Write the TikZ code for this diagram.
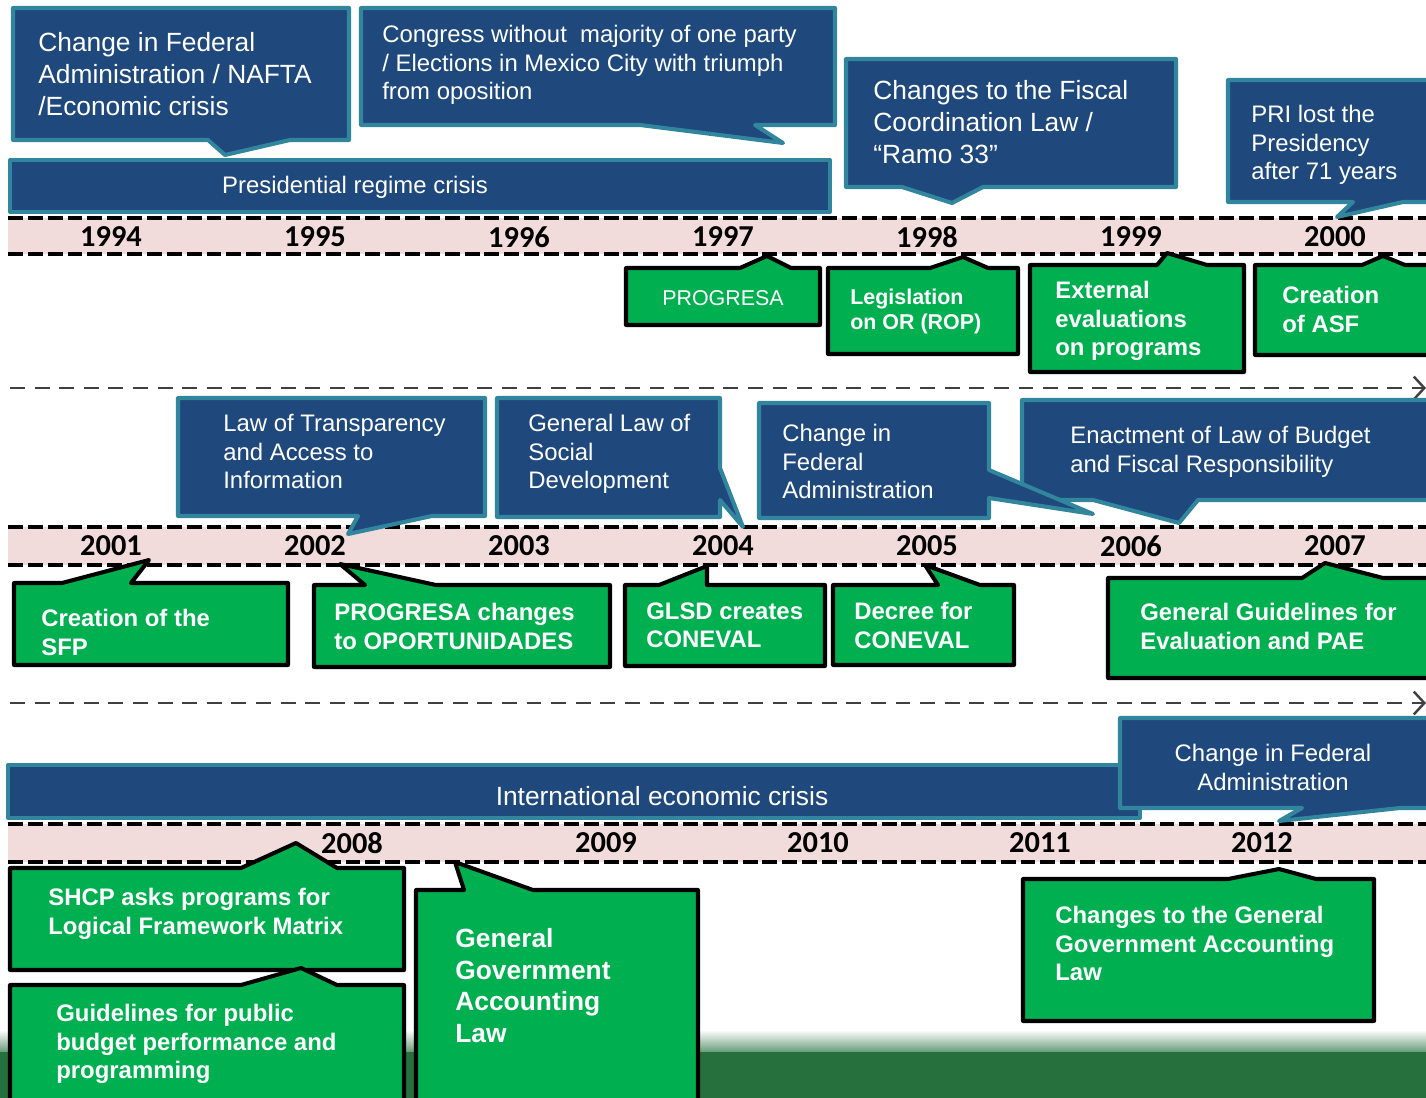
\documentclass[tikz,border=0pt]{standalone}
\usepackage{fontspec}
\setmainfont{Liberation Sans}
\newfontfamily\yearfont{Carlito}
\usetikzlibrary{arrows.meta}
\definecolor{tlblue}{RGB}{31,73,125}
\definecolor{tlteal}{RGB}{49,133,156}
\definecolor{tlgreen}{RGB}{0,176,80}
\definecolor{tlpink}{RGB}{242,220,219}
\definecolor{tlgrey}{RGB}{64,64,64}
\definecolor{tlgrass}{RGB}{38,112,62}

\begin{document}
\begin{tikzpicture}[x=0.02cm,y=-0.02cm,
    bluecall/.style={fill=tlblue,draw=tlteal,line width=2.3pt,line join=round},
    greencall/.style={fill=tlgreen,draw=black,line width=2.3pt,line join=round},
    bandline/.style={line width=2.3pt,dash pattern=on 8.5pt off 2.8pt},
    sepline/.style={draw=tlgrey,line width=1.4pt,dash pattern=on 8.5pt off 5.5pt,
      -{Straight Barb[length=6pt,width=13pt]}},
    yeartxt/.style={font=\yearfont\bfseries\fontsize{17.3}{20}\selectfont},
    notetxt/.style={text=white,inner sep=0pt,anchor=north west,align=left},
    bigtxt/.style={notetxt,font=\fontsize{15}{18.1}\selectfont},
    midtxt/.style={notetxt,font=\fontsize{13.6}{16.2}\selectfont},
    boldtxt/.style={notetxt,font=\bfseries\fontsize{13.6}{16.2}\selectfont},
    smalltxt/.style={notetxt,font=\bfseries\fontsize{12.2}{14.2}\selectfont}]

  \useasboundingbox (0,0) rectangle (1426,1098);
  \clip (0,0) rectangle (1426,1098);

  \shade[top color=white,bottom color=tlgrass!70] (0,1030) rectangle (1426,1052);
  \fill[tlgrass] (0,1052) rectangle (1426,1098);

  \fill[tlpink] (8,218) rectangle (1426,254);
  \draw[bandline] (8,218) -- (1426,218);
  \draw[bandline] (8,254) -- (1426,254);
  \fill[tlpink] (8,527) rectangle (1426,565);
  \draw[bandline] (8,527) -- (1426,527);
  \draw[bandline] (8,565) -- (1426,565);
  \fill[tlpink] (8,824) rectangle (1426,862);
  \draw[bandline] (8,824) -- (1426,824);
  \draw[bandline] (8,862) -- (1426,862);

  \coordinate (sepA) at (10,388);
  \coordinate (sepAend) at (1426,388);
  \coordinate (sepB) at (10,703);
  \coordinate (sepBend) at (1426,703);
  \draw[sepline] (sepA) -- (sepAend);
  \draw[sepline] (sepB) -- (sepBend);

  \node[yeartxt] (y1994) at (111,237) {1994};
  \node[yeartxt] (y1995) at (315,237) {1995};
  \node[yeartxt] (y1996) at (519,237) {1996};
  \node[yeartxt] (y1997) at (723,237) {1997};
  \node[yeartxt] (y1998) at (927,237) {1998};
  \node[yeartxt] (y1999) at (1131,237) {1999};
  \node[yeartxt] (y2000) at (1335,237) {2000};
  \node[yeartxt] (y2001) at (111,546) {2001};
  \node[yeartxt] (y2002) at (315,546) {2002};
  \node[yeartxt] (y2003) at (519,546) {2003};
  \node[yeartxt] (y2004) at (723,546) {2004};
  \node[yeartxt] (y2005) at (927,546) {2005};
  \node[yeartxt] (y2006) at (1131,546) {2006};
  \node[yeartxt] (y2007) at (1335,546) {2007};
  \node[yeartxt] (y2008) at (352,843) {2008};
  \node[yeartxt] (y2009) at (606,843) {2009};
  \node[yeartxt] (y2010) at (818,843) {2010};
  \node[yeartxt] (y2011) at (1040,843) {2011};
  \node[yeartxt] (y2012) at (1262,843) {2012};

  \draw[bluecall] (13,8) -- (349,8) -- (349,140) -- (290,140) -- (225,155)
    -- (208,140) -- (13,140) -- cycle;
  \node[bigtxt] (nafta) at (38,32)
    {Change in Federal\\Administration / NAFTA\\/Economic crisis};

  \draw[bluecall] (361,8) -- (835,8) -- (835,125) -- (755,125) -- (783,143)
    -- (640,125) -- (361,125) -- cycle;
  \node[midtxt] (congress) at (382,25)
    {Congress without\ \ majority of one party\\/ Elections in Mexico City with triumph\\from oposition};

  \draw[bluecall] (10,160) rectangle (830,212);
  \node[midtxt,anchor=center] (regime) at (355,187) {Presidential regime crisis};

  \draw[bluecall] (846,59) -- (1176,59) -- (1176,187) -- (983,187) -- (952,203)
    -- (902,187) -- (846,187) -- cycle;
  \node[bigtxt] (ramo) at (873,80)
    {Changes to the Fiscal\\Coordination Law /\\“Ramo 33”};

  \draw[bluecall] (1228,80) -- (1440,80) -- (1440,202) -- (1403,202) -- (1337,217)
    -- (1353,202) -- (1228,202) -- cycle;
  \node[midtxt] (pri) at (1251,105) {PRI lost the\\Presidency\\after 71 years};

  \draw[greencall] (626,268) -- (740,268) -- (767,256) -- (791,268) -- (820,268)
    -- (820,325) -- (626,325) -- cycle;
  \node[midtxt,anchor=center,font=\fontsize{12.2}{14.2}\selectfont] (progresa) at (723,298) {PROGRESA};

  \draw[greencall] (828,268) -- (930,268) -- (963,257) -- (988,268) -- (1018,268)
    -- (1018,354) -- (828,354) -- cycle;
  \node[smalltxt] (rop) at (850,289) {Legislation\\on OR (ROP)};

  \draw[greencall] (1030,265) -- (1157,265) -- (1167,253) -- (1207,265) -- (1244,265)
    -- (1244,372) -- (1030,372) -- cycle;
  \node[boldtxt] (evals) at (1055,281) {External\\evaluations\\on programs};

  \draw[greencall] (1255,265) -- (1362,265) -- (1383,256) -- (1405,265) -- (1440,265)
    -- (1440,355) -- (1255,355) -- cycle;
  \node[boldtxt] (asf) at (1282,286) {Creation\\of ASF};

  \draw[bluecall] (178,398) -- (485,398) -- (485,516) -- (432,516) -- (348,534)
    -- (358,516) -- (178,516) -- cycle;
  \node[midtxt] (transp) at (223,414) {Law of Transparency\\and Access to\\Information};

  \draw[bluecall] (497,398) -- (720,398) -- (720,468) -- (743,527) -- (720,500)
    -- (720,517) -- (497,517) -- cycle;
  \node[midtxt] (social) at (528,414) {General Law of\\Social\\Development};

  \draw[bluecall] (1022,400) -- (1440,400) -- (1440,500) -- (1198,500) -- (1179,523)
    -- (1093,500) -- (1022,500) -- cycle;
  \node[midtxt] (budget) at (1070,426)
    {Enactment of Law of Budget\\and Fiscal Responsibility};

  \draw[bluecall] (759,403) -- (989,403) -- (989,470) -- (1093,514) -- (989,498)
    -- (989,518) -- (759,518) -- cycle;
  \node[midtxt] (fed05) at (782,424) {Change in\\Federal\\Administration};

  \draw[greencall] (14,583) -- (62,583) -- (149,560) -- (131,583) -- (288,583)
    -- (288,665) -- (14,665) -- cycle;
  \node[boldtxt] (sfp) at (41,609) {Creation of the\\SFP};

  \draw[greencall] (314,585) -- (365,585) -- (340,564) -- (436,585) -- (610,585)
    -- (610,667) -- (314,667) -- cycle;
  \node[boldtxt] (oport) at (334,603) {PROGRESA changes\\to OPORTUNIDADES};

  \draw[greencall] (625,585) -- (659,585) -- (707,566) -- (707,585) -- (825,585)
    -- (825,666) -- (625,666) -- cycle;
  \node[boldtxt] (glsd) at (646,602) {GLSD creates\\CONEVAL};

  \draw[greencall] (833,585) -- (938,585) -- (925,565) -- (980,585) -- (1014,585)
    -- (1014,665) -- (833,665) -- cycle;
  \node[boldtxt] (decree) at (854,602) {Decree for\\CONEVAL};

  \draw[greencall] (1108,578) -- (1302,578) -- (1325,563) -- (1383,578) -- (1440,578)
    -- (1440,678) -- (1108,678) -- cycle;
  \node[boldtxt] (pae) at (1140,603) {General Guidelines for\\Evaluation and PAE};

  \draw[bluecall] (8,765) rectangle (1140,818);
  \node[midtxt,anchor=center,font=\fontsize{15}{18}\selectfont] (intl) at (662,796)
    {International economic crisis};

  \draw[bluecall] (1120,718) -- (1440,718) -- (1440,808) -- (1400,808) -- (1279,821)
    -- (1302,808) -- (1120,808) -- cycle;
  \node[midtxt,anchor=north,align=center] (fed12) at (1273,744)
    {Change in Federal\\Administration};

  \draw[greencall] (10,868) -- (241,868) -- (296,843) -- (337,868) -- (404,868)
    -- (404,970) -- (10,970) -- cycle;
  \node[boldtxt] (shcp) at (48,888) {SHCP asks programs for\\Logical Framework Matrix};

  \draw[greencall] (10,985) -- (241,985) -- (301,968) -- (337,985) -- (404,985)
    -- (404,1110) -- (10,1110) -- cycle;
  \node[boldtxt] (pbr) at (56,1004)
    {Guidelines for public\\budget performance and\\programming};

  \draw[greencall] (416,890) -- (464,890) -- (455,862) -- (533,890) -- (698,890)
    -- (698,1110) -- (416,1110) -- cycle;
  \node[boldtxt,font=\bfseries\fontsize{15}{18}\selectfont] (ggal) at (455,928)
    {General\\Government\\Accounting\\Law};

  \draw[greencall] (1023,879) -- (1228,879) -- (1279,869) -- (1316,879) -- (1374,879)
    -- (1374,1021) -- (1023,1021) -- cycle;
  \node[boldtxt] (ggalchg) at (1055,906)
    {Changes to the General\\Government Accounting\\Law};

\end{tikzpicture}
\end{document}
